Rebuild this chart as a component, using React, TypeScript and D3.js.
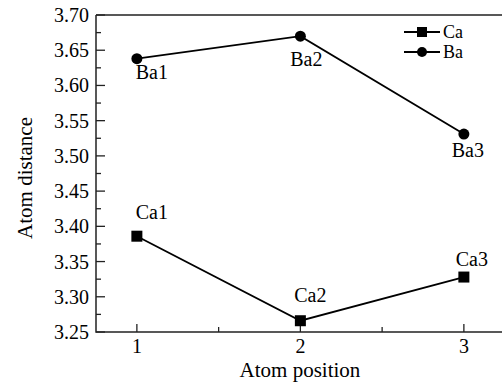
import React from "react";
import * as d3 from "d3";

const positions = [1, 2, 3];
const caValues = [3.386, 3.266, 3.328];
const baValues = [3.638, 3.670, 3.531];
const caLabels = ["Ca1", "Ca2", "Ca3"];
const baLabels = ["Ba1", "Ba2", "Ba3"];
const yTicks = [3.25, 3.3, 3.35, 3.4, 3.45, 3.5, 3.55, 3.6, 3.65, 3.7];
const xTicks = [1, 2, 3];
const seriesNames = ["Ca", "Ba"];

// label offsets (px) relative to each point
const caLabelOffset = [[15, -17], [10, -19], [8, -11]];
const baLabelOffset = [[15, 20], [6, 30], [4, 23]];

const W = 502;
const H = 383;
const left = 96;
const top = 15;
const bottom = 332;
const font = "'Liberation Serif', 'Times New Roman', serif";

export default function App() {
  const x = d3.scaleLinear().domain([0.75, 3.25]).range([left, left + 2.5 * 163.5]);
  const y = d3.scaleLinear().domain([3.25, 3.7]).range([bottom, top]);
  const line = d3.line<number>().x((d, i) => x(positions[i])).y(d => y(d));

  const minorY = d3.range(3.275, 3.7, 0.05);
  const minorX = [1.5, 2.5];

  return (
    <svg width={W} height={H} style={{ position: "absolute", left: 0, top: 0, background: "#fff" }}
      fontFamily={font}>
      {/* frame */}
      <path d={`M${left},${top}H${W}M${left},${top}V${bottom}H${W}`} fill="none" stroke="#222" strokeWidth={1.5} />

      {yTicks.map(t => (
        <g key={t}>
          <line x1={left} x2={left + 9} y1={y(t)} y2={y(t)} stroke="#222" strokeWidth={1.3} />
          <text x={left - 7} y={y(t)} dy="0.35em" textAnchor="end" fontSize={20}>{t.toFixed(2)}</text>
        </g>
      ))}
      {minorY.map(t => (
        <line key={t} x1={left} x2={left + 5} y1={y(t)} y2={y(t)} stroke="#222" strokeWidth={1.3} />
      ))}
      {xTicks.map(t => (
        <g key={t}>
          <line x1={x(t)} x2={x(t)} y1={bottom} y2={bottom - 8} stroke="#222" strokeWidth={1.3} />
          <text x={x(t)} y={353} textAnchor="middle" fontSize={20}>{t}</text>
        </g>
      ))}
      {minorX.map(t => (
        <line key={t} x1={x(t)} x2={x(t)} y1={bottom} y2={bottom - 5} stroke="#222" strokeWidth={1.3} />
      ))}

      <text x={300} y={377} textAnchor="middle" fontSize={21}>Atom position</text>
      <text transform={`translate(32,178) rotate(-90)`} textAnchor="middle" fontSize={21}>Atom distance</text>

      {/* series */}
      <path d={line(caValues) ?? ""} fill="none" stroke="#000" strokeWidth={1.8} />
      <path d={line(baValues) ?? ""} fill="none" stroke="#000" strokeWidth={1.8} />
      {caValues.map((v, i) => (
        <rect key={i} x={x(positions[i]) - 5.5} y={y(v) - 5.5} width={11} height={11} fill="#000" />
      ))}
      {baValues.map((v, i) => (
        <circle key={i} cx={x(positions[i])} cy={y(v)} r={5.5} fill="#000" />
      ))}
      {caValues.map((v, i) => (
        <text key={i} x={x(positions[i]) + caLabelOffset[i][0]} y={y(v) + caLabelOffset[i][1]}
          textAnchor="middle" fontSize={20}>{caLabels[i]}</text>
      ))}
      {baValues.map((v, i) => (
        <text key={i} x={x(positions[i]) + baLabelOffset[i][0]} y={y(v) + baLabelOffset[i][1]}
          textAnchor="middle" fontSize={20}>{baLabels[i]}</text>
      ))}

      {/* legend */}
      {seriesNames.map((name, i) => {
        const ly = 32 + i * 20;
        return (
          <g key={name}>
            <line x1={404} x2={440} y1={ly} y2={ly} stroke="#000" strokeWidth={1.8} />
            {i === 0
              ? <rect x={417} y={ly - 5} width={10} height={10} fill="#000" />
              : <circle cx={422} cy={ly} r={5} fill="#000" />}
            <text x={443} y={ly} dy="0.33em" fontSize={18}>{name}</text>
          </g>
        );
      })}
    </svg>
  );
}
